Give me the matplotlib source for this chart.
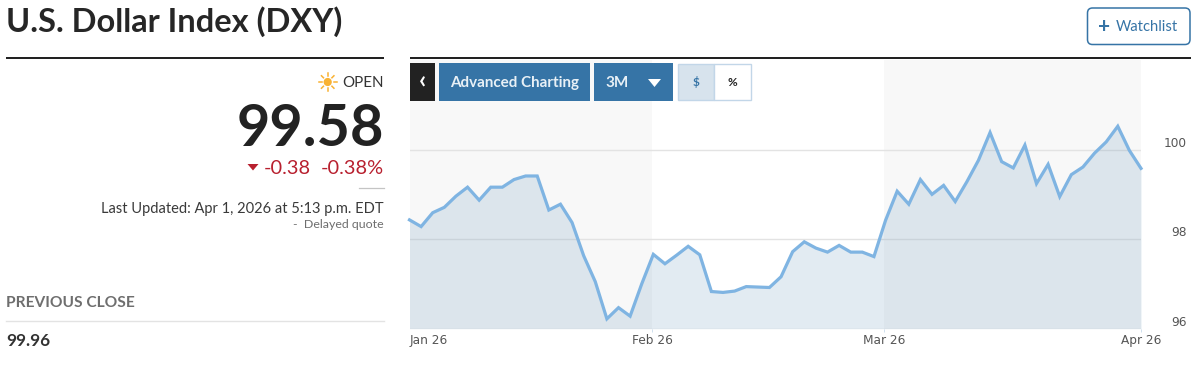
import numpy as np
import pandas as pd
import matplotlib
matplotlib.use("Agg")
import matplotlib.pyplot as plt
from matplotlib.patches import Rectangle, FancyBboxPatch, Polygon, Circle

plt.rcParams['font.family'] = ['Lato', 'DejaVu Sans']

# ---- data ----
title = "U.S. Dollar Index (DXY)"
start_date = "2026-01-02"
dxy_close = [
    98.43, 98.28, 98.59, 98.71, 98.96, 99.16, 98.87, 99.16, 99.16, 99.33, 99.41,
    99.41, 98.65, 98.78, 98.37, 97.63, 97.05, 96.22, 96.47, 96.28, 97.00, 97.66,
    97.45, 97.64, 97.84, 97.65, 96.83, 96.81, 96.84, 96.94, 96.93, 96.92, 97.16,
    97.72, 97.94, 97.80, 97.71, 97.86, 97.71, 97.71, 97.61, 98.42, 99.07, 98.78,
    99.33, 99.00, 99.20, 98.84, 99.28, 99.76, 100.38, 99.73, 99.59, 100.10, 99.24,
    99.67, 98.95, 99.44, 99.61, 99.92, 100.17, 100.52, 99.98, 99.58,
]
y_ticks = [96, 98, 100]
month_labels = ["Jan 26", "Feb 26", "Mar 26", "Apr 26"]

# ---- colours ----
DARK = "#222222"
BLUE = "#3674a6"
LINE = "#7fb4e2"
RED = "#b8202f"
GREY = "#6e6e6e"

W, H = 1200, 367
fig = plt.figure(figsize=(W / 100, H / 100), dpi=100, facecolor="white")

# page layer, in pixel coordinates
page = fig.add_axes([0, 0, 1, 1], zorder=3)
page.set_xlim(0, W)
page.set_ylim(H, 0)
page.axis("off")
page.patch.set_alpha(0)

# chart layer
L, R, T, B = 409.5, 1141, 60, 328.7
ax = fig.add_axes([L / W, (H - B) / H, (R - L) / W, (B - T) / H], zorder=1)
dates = pd.bdate_range(start_date, periods=len(dxy_close))
x = np.arange(len(dates))
month_idx = [int(np.argmax(dates.month == m)) for m in (1, 2, 3, 4)]
edge = [month_idx[0], month_idx[1] - 0.1, month_idx[2] - 0.1, month_idx[3]]

ax.set_xlim(x[0], x[-1])
ax.set_ylim(96, 102)
for s in ax.spines.values():
    s.set_visible(False)
ax.axvspan(edge[0], edge[1], color="#f8f8f8", lw=0, zorder=0)
ax.axvspan(edge[2], edge[3], color="#f8f8f8", lw=0, zorder=0)
ax.grid(axis="y", color="#e3e3e3", lw=1.0, zorder=1)
ax.set_axisbelow(True)
ax.fill_between(x, dxy_close, 96, color=BLUE, alpha=0.14, lw=0, zorder=2)
ax.plot(x, dxy_close, color=LINE, lw=2.3, solid_joinstyle="miter", zorder=3, clip_on=False)

ax.yaxis.tick_right()
ax.set_yticks(y_ticks)
ax.set_yticklabels([str(v) for v in y_ticks], fontsize=8.7, color="#555555",
                   family=["DejaVu Sans"], ha="right", va="bottom")
ax.tick_params(axis="y", length=0, pad=33)
ax.set_xticks(edge)
ax.set_xticklabels(month_labels, fontsize=8.7, color="#555555", family=["DejaVu Sans"])
ax.get_xticklabels()[0].set_ha("left")
ax.tick_params(axis="x", length=2.5, width=0.7, color="#cfe0ee", pad=1.5)
ax.get_xticklines()[0].set_visible(False)

# rules
page.add_patch(Rectangle((6, 56.8), 378, 2.3, color=DARK, lw=0))
page.add_patch(Rectangle((410, 56.8), 781, 2.3, color=DARK, lw=0))
page.plot([6, 384], [321, 321], color="#e3e3e3", lw=1)
page.plot([359, 384], [188, 188], color="#c4c4c4", lw=0.9)

# title and watchlist
page.text(6, 22, title, fontsize=23.5, fontweight="bold", color="#262626", va="center", ha="left")
page.add_patch(FancyBboxPatch((1087.5, 8), 102.5, 36.5, boxstyle="round,pad=0,rounding_size=5",
                              fc="white", ec=BLUE, lw=1.1))
page.text(1104, 27, "+", fontsize=15, fontweight="bold", color=BLUE, ha="center", va="center")
page.text(1116, 27, "Watchlist", fontsize=10.6, color=BLUE, ha="left", va="center")

# quote panel
sx, sy = 327.7, 82
page.add_patch(Circle((sx, sy), 4.1, fc="#f9b233", ec="none"))
for a in np.deg2rad(np.arange(0, 360, 45)):
    page.plot([sx + 6 * np.cos(a), sx + 8.8 * np.cos(a)],
              [sy + 6 * np.sin(a), sy + 8.8 * np.sin(a)], color="#f9b233", lw=1.1)
page.text(384, 83, "OPEN", fontsize=10.9, color="#333333", ha="right", va="center")
page.text(384.5, 129, "99.58", fontsize=41.5, fontweight="bold", color="#222222", ha="right", va="center")
page.add_patch(Polygon([(247.5, 164), (258.5, 164), (253, 170.5)], color=RED, lw=0))
page.text(310.5, 168, "-0.38", fontsize=14.4, color=RED, ha="right", va="center")
page.text(384, 168, "-0.38%", fontsize=14.4, color=RED, ha="right", va="center")
page.text(384, 208.5, "Last Updated: Apr 1, 2026 at 5:13 p.m. EDT", fontsize=10.5, color="#3a3a3a", ha="right", va="center")
page.text(384, 225, "-  Delayed quote", fontsize=8.9, color=GREY, ha="right", va="center")
page.text(6, 303, "PREVIOUS CLOSE", fontsize=11.2, fontweight="bold", color=GREY, ha="left", va="center")
page.text(6, 341, "99.96", fontsize=12.3, fontweight="bold", color="#333333", ha="left", va="center")

# chart buttons
page.add_patch(Rectangle((409.5, 63.3), 25.5, 37.5, color="#222222", lw=0))
page.text(422, 81, "‹", fontsize=18, fontweight="bold", color="white", ha="center", va="center")
page.add_patch(Rectangle((438.7, 63.3), 151.3, 37.5, color=BLUE, lw=0))
page.text(514.5, 83, "Advanced Charting", fontsize=10.9, fontweight="bold", color="#e8f0f6", ha="center", va="center")
page.add_patch(Rectangle((593.7, 63.3), 79.3, 37.5, color=BLUE, lw=0))
page.text(617.5, 83, "3M", fontsize=11, fontweight="bold", color="#e8f0f6", ha="center", va="center")
page.add_patch(Polygon([(648, 79), (661, 79), (654.5, 87)], color="white", lw=0))
page.add_patch(Rectangle((677.5, 63.8), 36.5, 36.5, fc="#d7e3ed", ec="#c2d6e8", lw=1))
page.add_patch(Rectangle((714, 63.8), 36.5, 36.5, fc="white", ec="#c2d6e8", lw=1))
page.text(695.8, 82, "$", fontsize=8.5, fontweight="bold", color=BLUE, ha="center", va="center")
page.text(732.5, 82, "%", fontsize=8.5, fontweight="bold", color="#222222", ha="center", va="center")

fig.savefig("out.png", dpi=100, facecolor="white")
